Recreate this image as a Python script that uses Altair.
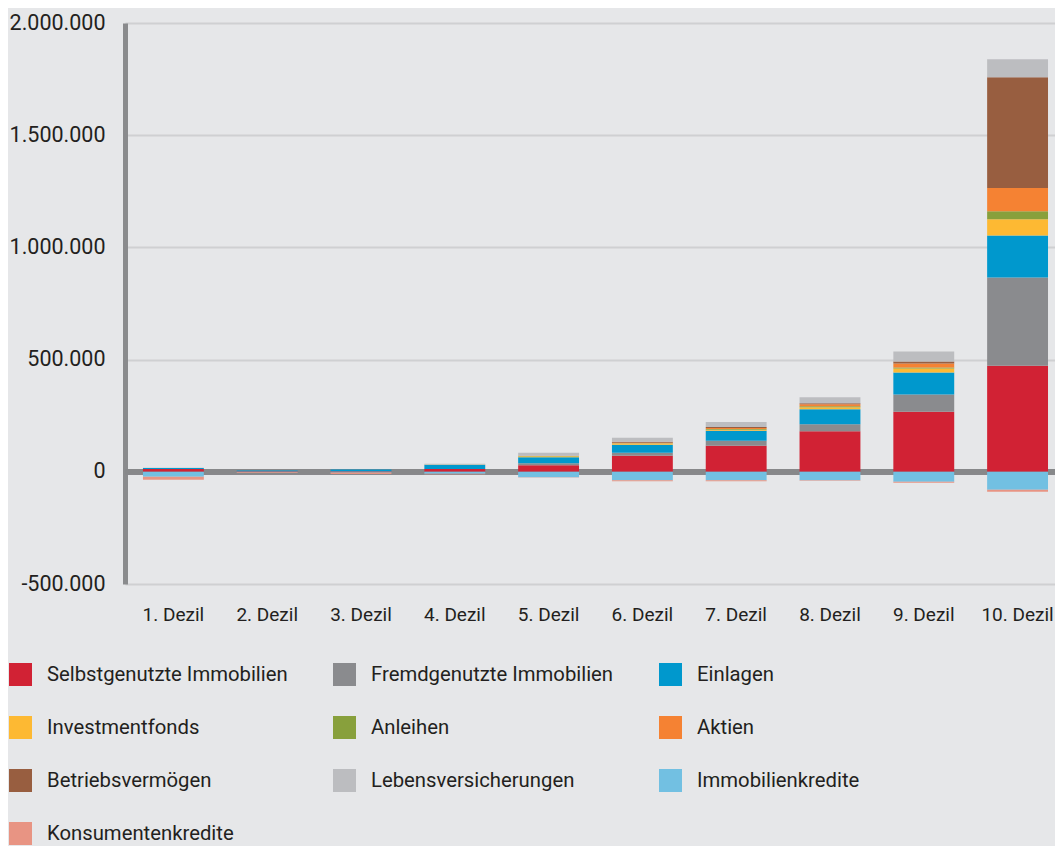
import altair as alt
import pandas as pd

deciles = ["1. Dezil", "2. Dezil", "3. Dezil", "4. Dezil", "5. Dezil",
           "6. Dezil", "7. Dezil", "8. Dezil", "9. Dezil", "10. Dezil"]

categories = ["Selbstgenutzte Immobilien", "Fremdgenutzte Immobilien", "Einlagen",
              "Investmentfonds", "Anleihen", "Aktien",
              "Betriebsvermögen", "Lebensversicherungen", "Immobilienkredite",
              "Konsumentenkredite"]

colors = ["#d12234", "#8a8b8e", "#0098cd",
          "#fdb933", "#88a03c", "#f58233",
          "#985e40", "#bcbdc0", "#72c0e2",
          "#e89483"]

selbstgenutzt = [12500, 2500, 3000, 12000, 29000, 71000, 116000, 181000, 268000, 473000]
fremdgenutzt = [0, 0, 0, 1000, 9000, 13400, 22000, 31000, 76000, 393000]
einlagen = [4500, 3000, 7000, 18000, 27000, 36000, 44600, 67000, 98000, 187500]
investmentfonds = [0, 0, 0, 1500, 4500, 6000, 4500, 9000, 18000, 71400]
anleihen = [0, 0, 0, 0, 500, 1000, 4000, 4000, 4500, 35700]
aktien = [0, 0, 0, 0, 500, 2000, 4500, 9000, 18000, 104000]
betrieb = [0, 0, 0, 0, 500, 4500, 4500, 5000, 9000, 494000]
lebens = [1500, 500, 0, 3000, 13400, 18000, 22000, 26000, 44600, 80000]
immokredite = [-22000, -2500, -3000, -9000, -24000, -38000, -38000, -38000, -44000, -80000]
konsumkredite = [-13000, -3000, -7000, -2000, -1500, -4500, -4500, -1500, -4500, -9000]

series = [selbstgenutzt, fremdgenutzt, einlagen, investmentfonds, anleihen,
          aktien, betrieb, lebens, immokredite, konsumkredite]

y_ticks = [-500000, 0, 500000, 1000000, 1500000, 2000000]

rows = []
for ci, (cat, vals) in enumerate(zip(categories, series)):
    for d, v in zip(deciles, vals):
        rows.append({"Dezil": d, "Kategorie": cat, "Wert": v, "ord": ci})
df = pd.DataFrame(rows)

FONT = "Roboto"
TXT = "#231f20"

base = alt.Chart(df)

zero = base.mark_rule(color="#87888a", strokeWidth=5).encode(y=alt.datum(0))

bars = base.mark_bar().encode(
    x=alt.X("Dezil:N", sort=deciles,
            scale=alt.Scale(paddingInner=0.351, paddingOuter=0.133, align=0.72),
            axis=alt.Axis(title=None, labelAngle=0, domain=False, ticks=False, tickSize=0,
                          grid=False, labelFontSize=19, labelPadding=21,
                          labelColor=TXT, labelFont=FONT)),
    y=alt.Y("Wert:Q", stack="zero",
            scale=alt.Scale(domain=[-500000, 2000000], nice=False),
            axis=alt.Axis(title=None, values=y_ticks, ticks=False, tickSize=0,
                          labelFontSize=21.5, labelPadding=20, labelColor=TXT, labelFont=FONT,
                          domain=True, domainColor="#8a8b8d", domainWidth=5,
                          grid=True, gridColor="#cfd0d2", gridWidth=2,
                          labelExpr="(datum.value < 0 ? '-' : '') + replace(format(abs(datum.value), ','), regexp(',', 'g'), '.')")),
    color=alt.Color("Kategorie:N",
                    scale=alt.Scale(domain=categories, range=colors),
                    legend=alt.Legend(title=None, orient="none", legendX=-116, legendY=640,
                                      columns=3, direction="horizontal",
                                      symbolType="square", symbolSize=529, symbolStrokeWidth=0,
                                      symbolOpacity=1,
                                      labelFontSize=20.3, labelFont=FONT, labelColor=TXT,
                                      labelOffset=15, labelLimit=400,
                                      columnPadding=45, rowPadding=30, padding=0)),
    order=alt.Order("ord:Q", sort="ascending"),
)

chart = alt.layer(zero, bars).properties(
    width=930, height=561,
    background="#e6e7e9",
    padding={"left": 117, "top": 15, "right": 0, "bottom": 262},
    autosize=alt.AutoSizeParams(type="none"),
).configure_view(stroke=None)

chart.save("out.html", embed_options={"renderer": "svg", "actions": False})
